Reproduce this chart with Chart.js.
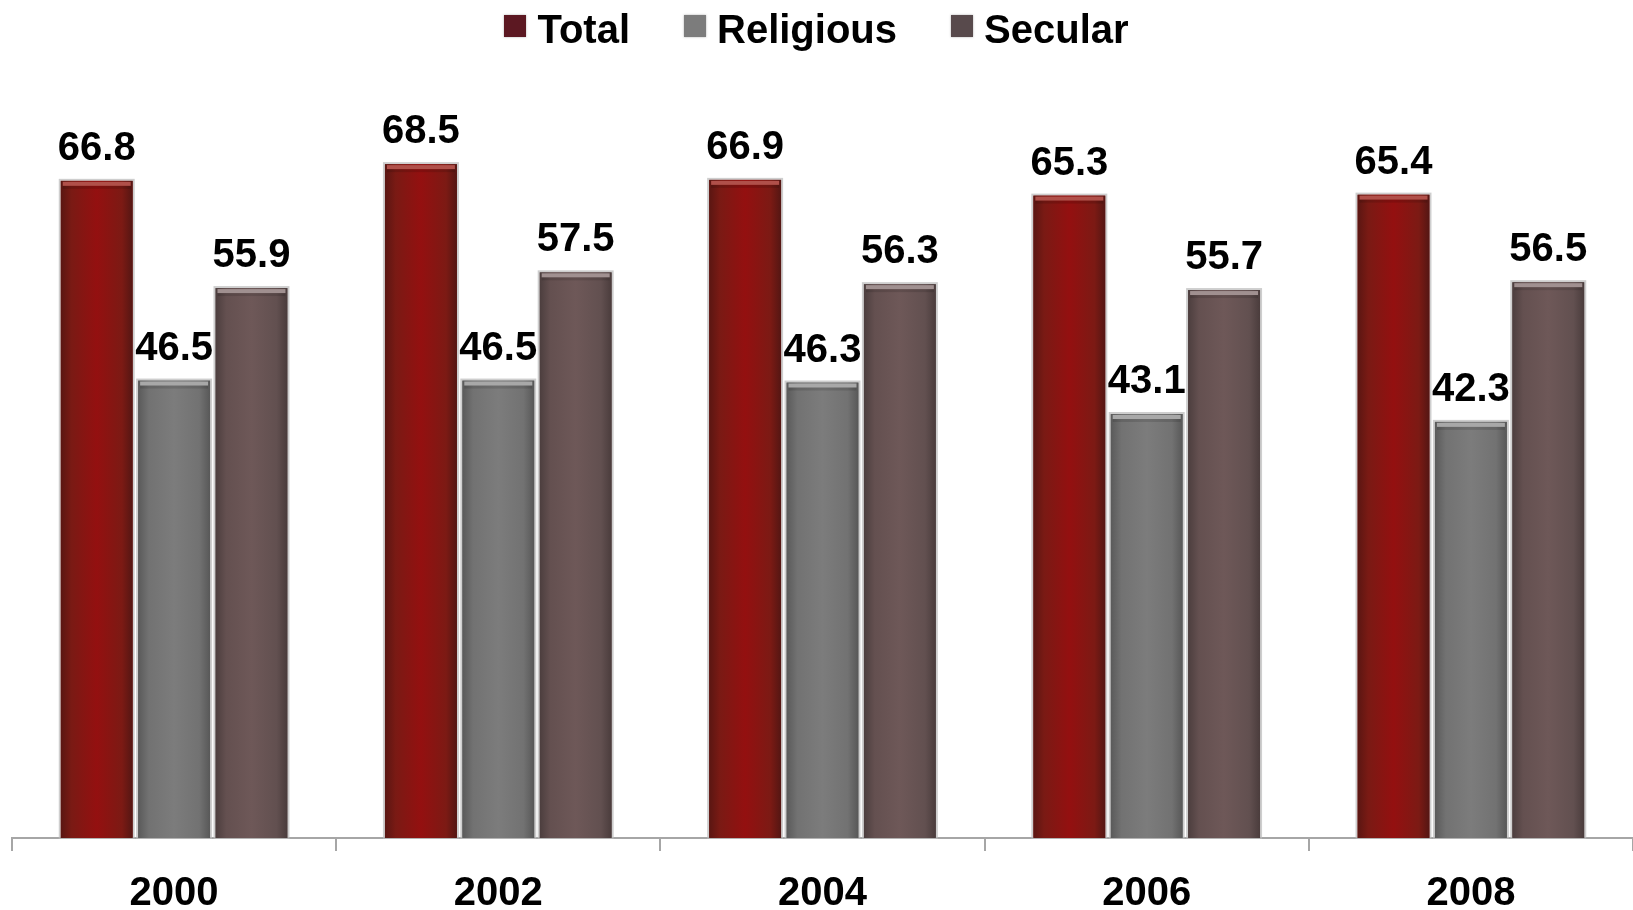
<!DOCTYPE html>
<html>
<head>
<meta charset="utf-8">
<script src="https://cdn.jsdelivr.net/npm/chart.js@4/dist/chart.umd.min.js"></script>
<style>
  html, body { margin: 0; padding: 0; background: #ffffff; overflow: hidden; }
  #wrap { position: relative; width: 1633px; height: 910px; }
  #legend { position: absolute; left: 0; right: 0; top: 9px; display: flex; justify-content: center; align-items: center;
            font-family: "Liberation Sans", Arial, sans-serif; font-weight: bold; font-size: 40px; line-height: 40px; color: #000; }
  .item { display: flex; align-items: center; margin: 0 27px; }
  .box { width: 22px; height: 22px; margin-right: 11px; position: relative; top: -3px; box-shadow: 0 0 2px rgba(120,120,120,0.6); }
</style>
</head>
<body>
<div id="wrap">
  <canvas id="c" width="1633" height="910"></canvas>
  <div id="legend"></div>
</div>
<script>
const categories = ['2000', '2002', '2004', '2006', '2008'];
const seriesNames = ['Total', 'Religious', 'Secular'];
const totalValues = [66.8, 68.5, 66.9, 65.3, 65.4];
const religiousValues = [46.5, 46.5, 46.3, 43.1, 42.3];
const secularValues = [55.9, 57.5, 56.3, 55.7, 56.5];

const baseColors = ['#8a1212', '#777777', '#695555'];
const legendColors = ['#5c1822', '#7c7c7c', '#584a4c'];
const gradStops = [
  ['#5a1612', '#7a1a14', '#941010', '#7c1a14', '#541613'],
  ['#5a5a5a', '#727272', '#7c7c7c', '#727272', '#585858'],
  ['#4c3e3e', '#645050', '#6e5858', '#625050', '#4a3c3c']
];
const capColors = ['#b0504a', '#a8a8a8', '#a09090'];

const FONT = '"Liberation Sans", Arial, sans-serif';

const legendEl = document.getElementById('legend');
seriesNames.forEach((n, i) => {
  const it = document.createElement('div'); it.className = 'item';
  const b = document.createElement('div'); b.className = 'box'; b.style.background = legendColors[i];
  const t = document.createElement('span'); t.textContent = n;
  it.appendChild(b); it.appendChild(t); legendEl.appendChild(it);
});

const barDeco = {
  id: 'barDeco',
  afterDatasetsDraw(chart) {
    const ctx = chart.ctx;
    ctx.save();
    chart.data.datasets.forEach((ds, di) => {
      const meta = chart.getDatasetMeta(di);
      meta.data.forEach((bar, i) => {
        const w = bar.width, l = bar.x - w / 2, top = bar.y, h = bar.base - bar.y;
        const g = ctx.createLinearGradient(l, 0, l + w, 0);
        const st = gradStops[di];
        [0, 0.15, 0.5, 0.85, 1].forEach((p, k) => g.addColorStop(p, st[k]));
        ctx.strokeStyle = 'rgba(185,185,185,0.7)';
        ctx.lineWidth = 2;
        ctx.strokeRect(l - 1, top - 1, w + 2, h + 1);
        ctx.fillStyle = g;
        ctx.fillRect(l, top, w, h);
        ctx.fillStyle = capColors[di];
        ctx.fillRect(l + 2, top + 1, w - 4, 4);
        ctx.fillStyle = 'rgba(0,0,0,0.12)';
        ctx.fillRect(l + 2, top + 5, w - 4, 3);
        // value label
        ctx.fillStyle = '#000';
        ctx.font = 'bold 40px ' + FONT;
        ctx.textAlign = 'center';
        ctx.textBaseline = 'alphabetic';
        ctx.fillText(ds.data[i].toFixed(1), bar.x, top - 21);
      });
    });
    ctx.restore();
  }
};

new Chart(document.getElementById('c'), {
  type: 'bar',
  data: {
    labels: categories,
    datasets: [
      { label: seriesNames[0], data: totalValues, backgroundColor: baseColors[0] },
      { label: seriesNames[1], data: religiousValues, backgroundColor: baseColors[1] },
      { label: seriesNames[2], data: secularValues, backgroundColor: baseColors[2] }
    ]
  },
  options: {
    responsive: false,
    animation: false,
    events: [],
    layout: { padding: { top: 51, left: 12, right: 0, bottom: -27 } },
    datasets: { bar: { categoryPercentage: 0.716, barPercentage: 0.93 } },
    plugins: { legend: { display: false }, tooltip: { enabled: false } },
    scales: {
      y: { display: false, min: 0, max: 80 },
      x: {
        grid: { display: true, offset: true, drawOnChartArea: false, drawTicks: true, tickLength: 13, color: '#a6a6a6', lineWidth: 2 },
        border: { display: true, color: '#a6a6a6', width: 2 },
        ticks: { color: '#000', padding: 28, font: { family: FONT, weight: 'bold', size: 40, lineHeight: 0.75 } }
      }
    }
  },
  plugins: [barDeco]
});
</script>
</body>
</html>
